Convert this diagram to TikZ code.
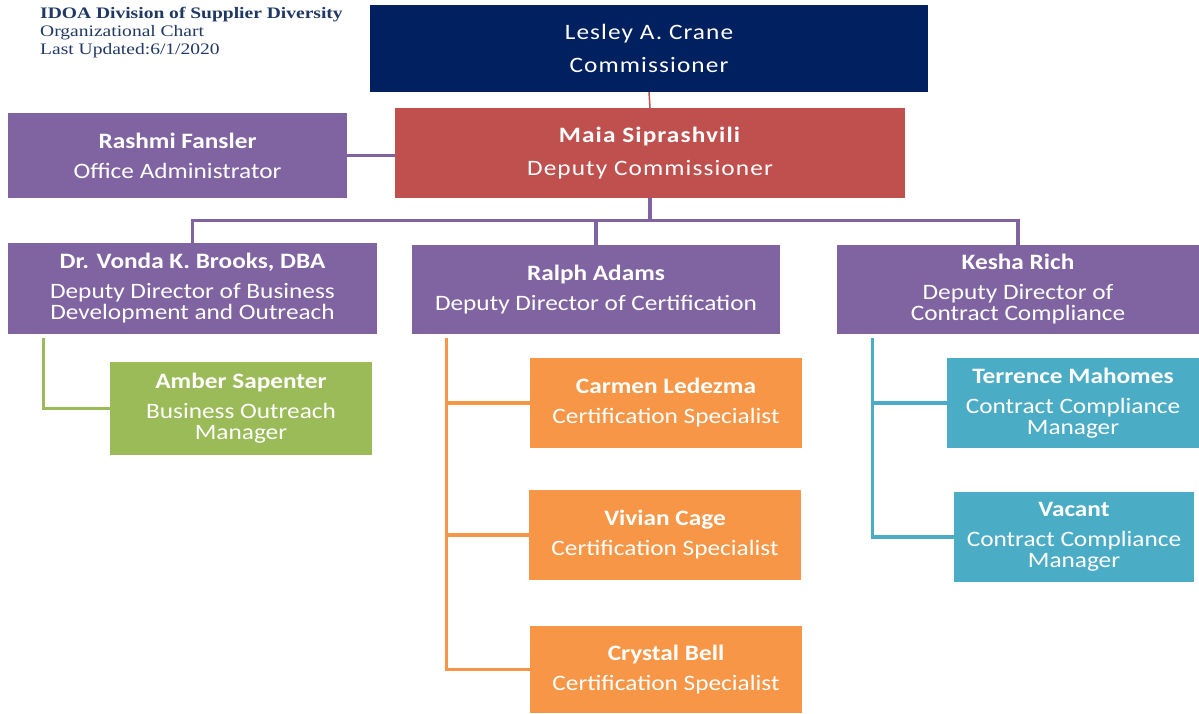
\documentclass[tikz,border=0pt]{standalone}
\usepackage{fontspec}
\setmainfont{Carlito}
\newfontfamily\boxfont[FakeStretch=1.15]{Carlito}
\newfontfamily\wideboxfont[FakeStretch=1.15,LetterSpace=5]{Carlito}
\newfontfamily\hdrfont[FakeStretch=1.22]{Liberation Serif}
\usetikzlibrary{positioning,calc}

\begin{document}
\begin{tikzpicture}[
  x=1pt, y=-1pt,
  font=\boxfont\fontsize{22}{21}\selectfont,
  box/.style={
    draw=none, fill=#1, text=white, align=center, inner sep=2pt},
  wide/.style={minimum width=#1},
  tall/.style={minimum height=#1},
  link/.style={line width=3.2pt, draw=#1},
  hdrtxt/.style={anchor=north west, inner sep=0pt, text=cHdr, align=left,
    font=\hdrfont\fontsize{16}{18}\selectfont}
]

% ---- palette ----
\definecolor{cTop}{HTML}{002060}
\definecolor{cDep}{HTML}{C0504D}
\definecolor{cDir}{HTML}{8064A2}
\definecolor{cGrn}{HTML}{9BBB59}
\definecolor{cOrg}{HTML}{F79646}
\definecolor{cTeal}{HTML}{4BACC6}
\definecolor{cHdr}{HTML}{1F3864}

\useasboundingbox (0,0) rectangle (1199,713);

% ================= heading =================
\node[hdrtxt] (title) at (40,7) {\textbf{IDOA Division of Supplier Diversity}\\
  Organizational Chart\\ Last Updated:6/1/2020};

% ================= top levels =================
\node[box=cTop, wide=558, tall=87, font=\wideboxfont\fontsize{22}{21}\selectfont] (boss) at (649,48.5)
  {Lesley A. Crane\\[12pt] Commissioner};
\node[box=cDep, wide=510, tall=90, font=\wideboxfont\fontsize{22}{21}\selectfont] (dep) at (650,153)
  {\textbf{Maia Siprashvili}\\[12pt] Deputy Commissioner};
\node[box=cDir, wide=339, tall=85] (adm) at (177.5,155.5)
  {\textbf{Rashmi Fansler}\\[9pt] Office Administrator};

% ================= deputy directors =================
\node[box=cDir, wide=369, tall=91] (vonda) at (192.5,288.5)
  {\textbf{Dr. Vonda K. Brooks, DBA}\\[9pt] Deputy Director of Business\\ Development and Outreach};
\node[box=cDir, wide=368, tall=89] (ralph) at (596,289.5)
  {\textbf{Ralph Adams}\\[9pt] Deputy Director of Certification};
\node[box=cDir, wide=362, tall=89] (kesha) at (1018,289.5)
  {\textbf{Kesha Rich}\\[9pt] Deputy Director of\\ Contract Compliance};

% ================= staff =================
\node[box=cGrn, wide=262, tall=93] (amber) at (241,408.5)
  {\textbf{Amber Sapenter}\\[9pt] Business Outreach\\ Manager};
\node[box=cOrg, wide=272, tall=90] (carmen) at (666,403)
  {\textbf{Carmen Ledezma}\\[9pt] Certification Specialist};
\node[box=cOrg, wide=272, tall=90] (vivian) at (665,535)
  {\textbf{Vivian Cage}\\[9pt] Certification Specialist};
\node[box=cOrg, wide=272, tall=87] (crystal) at (666,669.5)
  {\textbf{Crystal Bell}\\[9pt] Certification Specialist};
\node[box=cTeal, wide=252, tall=90] (terrence) at (1073,403)
  {\textbf{Terrence Mahomes}\\[9pt] Contract Compliance\\ Manager};
\node[box=cTeal, wide=240, tall=90] (vacant) at (1074,537)
  {\textbf{Vacant}\\[9pt] Contract Compliance\\ Manager};

% ================= upper links =================
\draw[link=cDep, line width=1.5pt] (boss.south) -- (dep.north);
\draw[link=cDir] (adm.east) -- (adm.east -| dep.west);
\coordinate (bus) at ($(dep.south)+(0,22)$);
\draw[link=cDir] (dep.south) -- (bus);
\foreach \n in {vonda, ralph, kesha} {\draw[link=cDir] (bus) -| (\n.north);}

% ================= spines =================
\coordinate (vs) at ([xshift=36,yshift=-4]vonda.south west);
\coordinate (rs) at ([xshift=35,yshift=-4]ralph.south west);
\coordinate (ks) at ([xshift=36,yshift=-4]kesha.south west);
\draw[link=cGrn] (vs) |- (amber.west);
\draw[link=cOrg] (rs) |- (crystal.west);
\foreach \n in {carmen, vivian} {\draw[link=cOrg] (\n.west) -- (\n.west -| rs);}
\draw[link=cTeal] (ks) |- (vacant.west);
\draw[link=cTeal] (terrence.west) -- (terrence.west -| ks);

\end{tikzpicture}
\end{document}
